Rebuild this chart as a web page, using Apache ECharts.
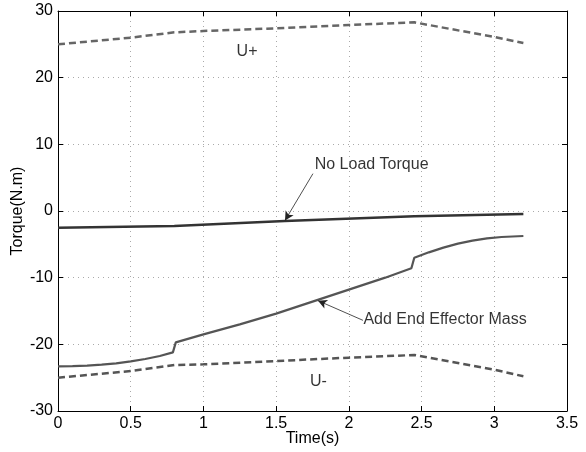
<!DOCTYPE html>
<html>
<head>
<meta charset="utf-8">
<script src="https://cdn.jsdelivr.net/npm/echarts@6/dist/echarts.min.js"></script>
<style>
  html, body { margin: 0; padding: 0; background: #fff; }
  #chart { width: 586px; height: 452px; }
</style>
</head>
<body>
<div id="chart"></div>
<script>
  // upper and lower torque limits
  var limitTime = [0, 0.5, 0.8, 1.0, 1.5, 2.0, 2.45, 3.0, 3.2];
  var uPlus = [25.0, 26.0, 26.8, 27.0, 27.4, 27.9, 28.3, 26.1, 25.2];
  var uMinus = [-25.0, -24.0, -23.1, -23.0, -22.5, -22.0, -21.6, -23.8, -24.8];

  // no load torque
  var noLoadTime = [0, 0.8, 1.56, 2.45, 3.2];
  var noLoad = [-2.5, -2.25, -1.5, -0.8, -0.45];

  // with end effector mass
  var massTime = [0, 0.1, 0.2, 0.3, 0.4, 0.5, 0.6, 0.7, 0.79, 0.81, 1.0, 1.25, 1.5, 1.75, 2.0, 2.25, 2.43,
                  2.45, 2.55, 2.65, 2.75, 2.85, 2.95, 3.05, 3.2];
  var mass = [-23.3, -23.28, -23.2, -23.05, -22.85, -22.55, -22.2, -21.75, -21.2, -19.7, -18.5, -17.0, -15.4, -13.6, -11.8, -10.0, -8.6,
              -7.0, -6.2, -5.5, -4.9, -4.45, -4.1, -3.9, -3.75];

  // annotations: [time, torque]
  var labelNames = ['U+', 'U-', 'No Load Torque', 'Add End Effector Mass'];
  var labelPos = [[1.30, 23.9], [1.79, -25.6], [1.765, 6.9], [2.10, -16.3]];
  var arrowFrom = [[1.753, 5.6], [2.097, -16.4]];
  var arrowTo = [[1.561, -1.42], [1.788, -13.45]];

  function pairs(xs, ys) {
    return xs.map(function (x, i) { return [x, ys[i]]; });
  }

  var font = 'Liberation Sans, Arial, sans-serif';
  var chart = echarts.init(document.getElementById('chart'));

  var arrows = arrowFrom.map(function (p, i) {
    return [{ coord: p }, { coord: arrowTo[i] }];
  });

  var labels = labelNames.map(function (n, i) {
    var centered = i < 2;
    return {
      name: n,
      value: labelPos[i],
      label: {
        position: centered ? 'inside' : 'right',
        distance: 0,
        align: centered ? 'center' : 'left'
      }
    };
  });

  var gridLine = { show: true, lineStyle: { color: '#aaa', type: [1, 4], width: 1 } };
  var tick = { show: true, inside: true, length: 5, lineStyle: { color: '#000' } };
  var line = { show: true, onZero: false, lineStyle: { color: '#000', width: 1 } };

  chart.setOption({
    animation: false,
    backgroundColor: '#fff',
    grid: { left: 58, right: 19, top: 11, bottom: 41, containLabel: false, outerBoundsMode: 'none' },
    xAxis: [{
      type: 'value', min: 0, max: 3.5, interval: 0.5,
      name: 'Time(s)', nameLocation: 'middle', nameGap: 20, nameMoveOverlap: false,
      nameTextStyle: { color: '#000', fontSize: 16, fontFamily: font },
      axisLine: line, axisTick: tick,
      axisLabel: { color: '#000', fontSize: 16, fontFamily: font, margin: 5 },
      splitLine: gridLine
    }, {
      type: 'value', min: 0, max: 3.5, interval: 0.5, position: 'top',
      axisLine: line, axisTick: tick,
      axisLabel: { show: false },
      splitLine: { show: false }
    }],
    yAxis: [{
      type: 'value', min: -30, max: 30, interval: 10,
      name: 'Torque(N.m)', nameLocation: 'middle', nameGap: 32, nameMoveOverlap: false,
      nameTextStyle: { color: '#000', fontSize: 16, fontFamily: font },
      axisLine: line, axisTick: tick,
      axisLabel: { color: '#000', fontSize: 16, fontFamily: font, margin: 5 },
      splitLine: gridLine
    }, {
      type: 'value', min: -30, max: 30, interval: 10, position: 'right',
      axisLine: line, axisTick: tick,
      axisLabel: { show: false },
      splitLine: { show: false }
    }],
    series: [{
      name: 'U+', type: 'line', symbol: 'none',
      data: pairs(limitTime, uPlus),
      lineStyle: { color: '#666', width: 2.5, type: [7, 4] }
    }, {
      name: 'U-', type: 'line', symbol: 'none',
      data: pairs(limitTime, uMinus),
      lineStyle: { color: '#555', width: 2.5, type: [7, 4] }
    }, {
      name: 'No Load Torque', type: 'line', symbol: 'none',
      data: pairs(noLoadTime, noLoad),
      lineStyle: { color: '#333', width: 2.5 }
    }, {
      name: 'Add End Effector Mass', type: 'line', symbol: 'none',
      data: pairs(massTime, mass),
      lineStyle: { color: '#555', width: 2.2 },
      markLine: {
        silent: true, animation: false,
        symbol: ['none', 'arrow'], symbolSize: [7, 9],
        label: { show: false },
        lineStyle: { color: '#222', width: 0.8, type: 'solid' },
        data: arrows
      }
    }, {
      name: 'labels', type: 'scatter', symbolSize: 0, silent: true,
      data: labels,
      label: {
        show: true, color: '#000', fontSize: 16, fontFamily: font,
        formatter: function (p) { return p.name; }
      },
      z: 10
    }]
  });
</script>
</body>
</html>
